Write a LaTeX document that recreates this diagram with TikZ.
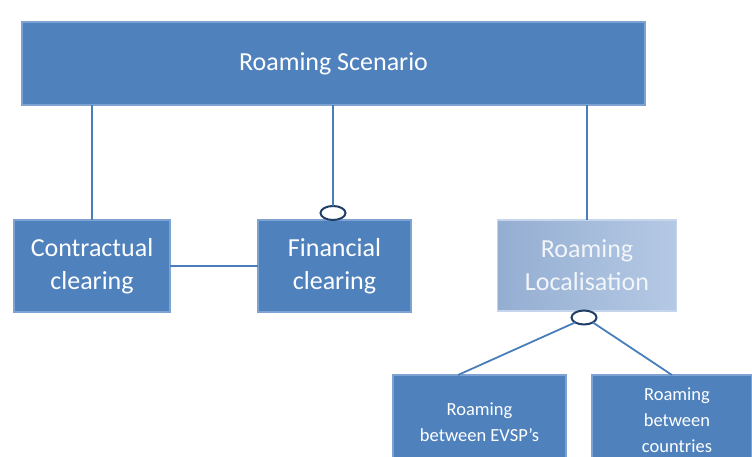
\documentclass[tikz,border=0pt]{standalone}
\usepackage{fontspec}
\setmainfont{Carlito}
\usetikzlibrary{shapes.geometric}
\begin{document}
\begin{tikzpicture}[x=1pt,y=-1pt,
  every node/.style={inner sep=0pt,outer sep=0pt},
  box/.style={rectangle,fill=boxblue,draw=boxedge,line width=1.2pt,text=white,align=center},
  lightbox/.style={rectangle,left color=lightA,right color=lightB,draw=lightedge,line width=1.2pt,text=white!88!lightA,align=center},
  link/.style={draw=linkblue,line width=1.8pt},
  knob/.style={ellipse,fill=white,draw=knobedge,line width=2pt,minimum width=25pt,minimum height=14pt},
  big/.style={font=\fontsize{26}{33}\selectfont},
  small/.style={font=\fontsize{18.5}{26}\selectfont}]
\definecolor{boxblue}{HTML}{4F81BD}
\definecolor{boxedge}{HTML}{7EA3D3}
\definecolor{lightA}{HTML}{94AED2}
\definecolor{lightB}{HTML}{B5C9E4}
\definecolor{lightedge}{HTML}{C4D5EC}
\definecolor{linkblue}{HTML}{4A7EBB}
\definecolor{knobedge}{HTML}{1F3E66}
\useasboundingbox (0,0) rectangle (752,457);
\clip (0,0) rectangle (752,457);

% top level
\node[box,big,minimum width=623pt,minimum height=83pt] (scen) at (333.5,63.5) {Roaming Scenario};

% second level
\node[box,big,minimum width=156pt,minimum height=92pt] (contr) at (92,266) {Contractual\\clearing};
\node[box,big,minimum width=153pt,minimum height=92pt] (fin) at (334.5,266) {Financial\\clearing};
\node[lightbox,big,minimum width=179pt,minimum height=91pt] (loc) at (587,265.5) {Roaming\\Localisation};

% third level
\node[box,small,minimum width=173pt,minimum height=110pt] (evsp) at (479.5,430) {};
\node[small,text=white,align=center] (evspt) at (479.5,422) {Roaming\\between EVSP’s};
\node[box,small,minimum width=160pt,minimum height=110pt] (ctry) at (672,430) {};
\node[small,text=white,align=center] (ctryt) at (677,420) {Roaming\\between\\countries};

% optional-link markers
\node[knob] (k1) at (333,213) {};
\node[knob] (k2) at (584,317.5) {};

% connectors
\draw[link] (contr.north) -- (contr.north |- scen.south);
\draw[link] (loc.north) -- (loc.north |- scen.south);
\draw[link] (contr.east) -- (fin.west);
\draw[link] (k1.north) -- (k1.north |- scen.south);
\coordinate (e1) at (458,375);
\coordinate (e2) at (672,375);
\draw[link] (k2.south west) -- (e1);
\draw[link] (k2.south east) -- (e2);
\end{tikzpicture}
\end{document}
